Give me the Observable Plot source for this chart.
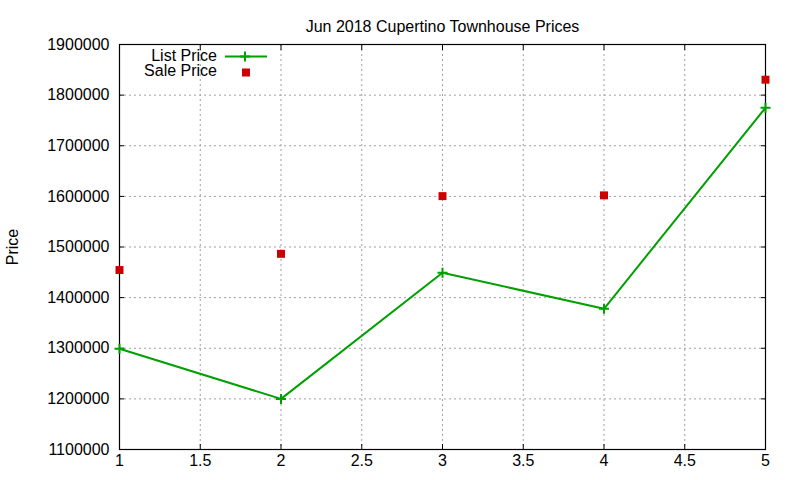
<!DOCTYPE html>
<html>
<head>
<meta charset="utf-8">
<script src="https://cdn.jsdelivr.net/npm/d3@7"></script>
<script src="https://cdn.jsdelivr.net/npm/@observablehq/plot@0.6"></script>
<style>
  html, body { margin: 0; padding: 0; background: #fff; }
  #chart { width: 800px; height: 480px; }
</style>
</head>
<body>
<div id="chart"></div>
<script>
const title = "Jun 2018 Cupertino Townhouse Prices";
const yLabel = "Price";
const months = [1, 2, 3, 4, 5];
const listPrice = [1299000, 1200000, 1449000, 1378000, 1775000];
const salePrice = [1454500, 1486500, 1600500, 1602000, 1830500];
const xTicks = [1, 1.5, 2, 2.5, 3, 3.5, 4, 4.5, 5];
const yTicks = [1100000, 1200000, 1300000, 1400000, 1500000, 1600000, 1700000, 1800000, 1900000];
const seriesNames = ["List Price", "Sale Price"];

const listColor = "#00a000";
const saleColor = "#cc0000";
const font = "'Liberation Sans', Arial, sans-serif";

const listData = months.map((m, i) => ({x: m, y: listPrice[i]}));
const saleData = months.map((m, i) => ({x: m, y: salePrice[i]}));

const plusSymbol = {
  draw(ctx, size) {
    const r = Math.sqrt(size / Math.PI);
    ctx.moveTo(-r, 0); ctx.lineTo(r, 0);
    ctx.moveTo(0, -r); ctx.lineTo(0, r);
  }
};

const plot = Plot.plot({
  width: 800,
  height: 480,
  marginLeft: 119,
  marginRight: 35,
  marginTop: 44,
  marginBottom: 31,
  style: {fontFamily: font, fontSize: "16px", background: "#fff", color: "#000"},
  x: {domain: [1, 5], label: null},
  y: {domain: [1100000, 1900000], label: null},
  marks: [
    Plot.ruleX(xTicks, {stroke: "#a0a0a0", strokeDasharray: "2,3", strokeWidth: 1}),
    Plot.ruleY(yTicks, {stroke: "#a0a0a0", strokeDasharray: "2,3", strokeWidth: 1}),
    Plot.axisY({ticks: yTicks, anchor: "left", tickSize: -5, tickPadding: 15, tickFormat: d => String(d), label: null, fontSize: 16, stroke: "#000"}),
    Plot.axisY({ticks: yTicks, anchor: "right", tickSize: -5, label: null, fill: "none", stroke: "#000"}),
    Plot.axisX({ticks: xTicks, anchor: "bottom", tickSize: -5, tickPadding: 10, tickFormat: d => String(d), label: null, fontSize: 16, stroke: "#000"}),
    Plot.axisX({ticks: xTicks, anchor: "top", tickSize: -5, label: null, fill: "none", stroke: "#000"}),
    Plot.frame({stroke: "#000", strokeWidth: 1.2}),
    Plot.line(listData, {x: "x", y: "y", stroke: listColor, strokeWidth: 2}),
    Plot.dot(listData, {x: "x", y: "y", symbol: plusSymbol, r: 5, stroke: listColor, strokeWidth: 2, fill: "none"}),
    Plot.dot(saleData, {x: "x", y: "y", symbol: "square", r: 4.5, fill: saleColor, stroke: "none"}),
    Plot.text([title], {frameAnchor: "top", dy: -24, fontSize: 16, fill: "#000"}),
    Plot.text([yLabel], {frameAnchor: "left", textAnchor: "middle", dx: -107, rotate: -90, fontSize: 16, fill: "#000"})
  ]
});

// Legend (gnuplot-style key, top-left inside the plot frame)
const svg = d3.select(plot);
const key = svg.append("g").attr("font-family", font).attr("font-size", 16);
seriesNames.forEach((name, i) => {
  const cy = 44 + 11.5 + i * 15.5;
  key.append("text").attr("x", 217).attr("y", cy).attr("dy", "0.32em")
    .attr("text-anchor", "end").attr("fill", "#000").text(name);
  if (i === 0) {
    key.append("line").attr("x1", 225).attr("x2", 267).attr("y1", cy + 1).attr("y2", cy + 1)
      .attr("stroke", listColor).attr("stroke-width", 2);
    key.append("path").attr("d", `M240,${cy + 1}h10M245,${cy - 4}v10`)
      .attr("stroke", listColor).attr("stroke-width", 2);
  } else {
    key.append("rect").attr("x", 242).attr("y", cy - 2.5).attr("width", 8).attr("height", 8)
      .attr("fill", saleColor);
  }
});

document.getElementById("chart").appendChild(plot);
</script>
</body>
</html>
